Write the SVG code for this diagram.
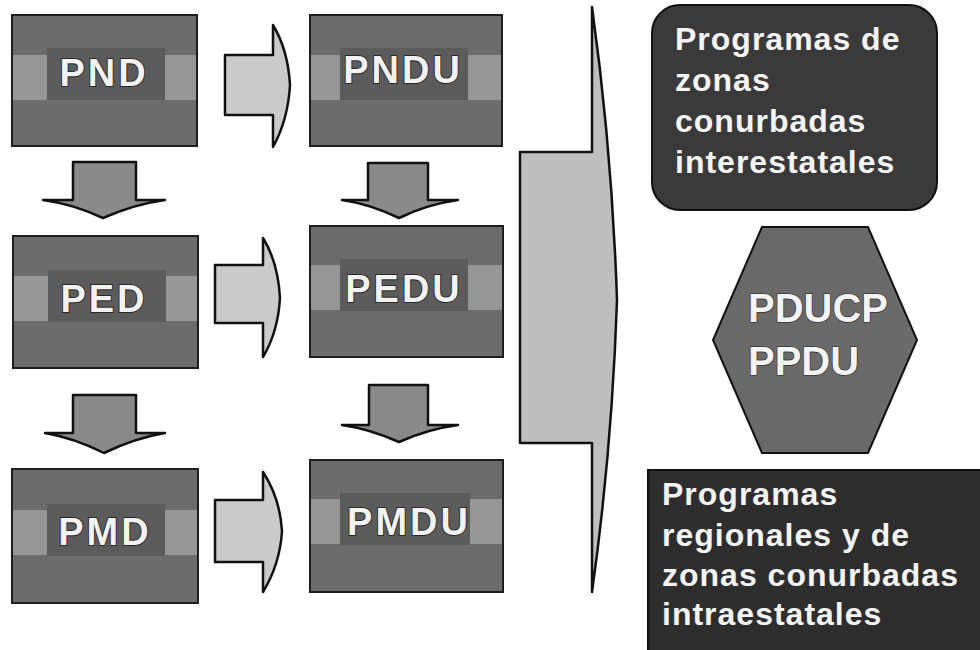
<svg xmlns="http://www.w3.org/2000/svg" width="980" height="650" viewBox="0 0 980 650">
<defs>
<style>
.box{fill:#6c6c6c;stroke:#1e1e1e;stroke-width:2}
.band{fill:#969696}
.inner{fill:#5c5c5c}
.lbl{font-family:"Liberation Sans",Arial,sans-serif;font-weight:bold;font-size:38px;letter-spacing:3px;fill:#f2f2f2;stroke:#1a1a1a;stroke-width:1.6;paint-order:stroke;text-anchor:middle}
.harrow{fill:#cacaca;stroke:#111;stroke-width:2.5;stroke-linejoin:round}
.varrow{fill:#8a8a8a;stroke:#111;stroke-width:2.5;stroke-linejoin:round}
.big{fill:#bebebe;stroke:#111;stroke-width:2.5;stroke-linejoin:round}
.rt{font-family:"Liberation Sans",Arial,sans-serif;font-weight:bold;font-size:32px;letter-spacing:1px;fill:#f4f4f4}
.hx{font-family:"Liberation Sans",Arial,sans-serif;font-weight:bold;font-size:40px;fill:#f4f4f4;stroke:#222;stroke-width:1.2;paint-order:stroke}
</style>
</defs>
<rect width="980" height="650" fill="#ffffff"/>

<g id="connectors">
  <path class="harrow" d="M225,55 H273 V25 Q288,50 290,85 Q288,120 273,147 V115 H225 Z"/>
  <path class="harrow" d="M215,265 H263 V238 Q278,262 280,298 Q278,332 263,357 V323 H215 Z"/>
  <path class="harrow" d="M215,500 H263 V472 Q280,498 282,531 Q280,564 263,592 V562 H215 Z"/>
  <path class="varrow" d="M73,162 H136 V200 H165 Q135,204 103,218 Q73,204 43,200 H73 Z"/>
  <path class="varrow" d="M73,395 H136 V433 H165 Q135,438 104,453 Q74,438 45,433 H73 Z"/>
  <path class="varrow" d="M368,163 H428 V200 H458 Q428,204 399,218 Q370,204 342,200 H368 Z"/>
  <path class="varrow" d="M369,385 H428 V425 H458 Q428,429 399,442 Q370,429 342,425 H369 Z"/>
  <path class="big" d="M520,152 H592 V7 Q612,150 617,300 Q612,450 592,592 V443 H520 Z"/>
</g>

<g id="PND">
  <rect class="box" x="12" y="15" width="185" height="131"/>
  <rect class="band" x="13" y="55" width="183" height="45"/>
  <rect class="inner" x="47" y="48" width="118" height="52"/>
  <text class="lbl" x="104" y="86">PND</text>
</g>
<g id="PED">
  <rect class="box" x="13" y="236" width="185" height="132"/>
  <rect class="band" x="14" y="276" width="183" height="45"/>
  <rect class="inner" x="48" y="270" width="118" height="52"/>
  <text class="lbl" x="104" y="312">PED</text>
</g>
<g id="PMD">
  <rect class="box" x="12" y="469" width="186" height="134"/>
  <rect class="band" x="13" y="510" width="184" height="45"/>
  <rect class="inner" x="47" y="504" width="118" height="52"/>
  <text class="lbl" x="105" y="545">PMD</text>
</g>
<g id="PNDU">
  <rect class="box" x="310" y="15" width="192" height="131"/>
  <rect class="band" x="311" y="55" width="190" height="45"/>
  <rect class="inner" x="340" y="48" width="128" height="52"/>
  <text class="lbl" x="403" y="83">PNDU</text>
</g>
<g id="PEDU">
  <rect class="box" x="310" y="226" width="193" height="131"/>
  <rect class="band" x="311" y="265" width="191" height="45"/>
  <rect class="inner" x="340" y="259" width="128" height="52"/>
  <text class="lbl" x="404" y="302">PEDU</text>
</g>
<g id="PMDU">
  <rect class="box" x="310" y="460" width="193" height="132"/>
  <rect class="band" x="311" y="499" width="191" height="45"/>
  <rect class="inner" x="340" y="493" width="130" height="52"/>
  <text class="lbl" x="409" y="535">PMDU</text>
</g>

<g id="interestatales">
  <rect x="652" y="5" width="285" height="205" rx="28" ry="28" fill="#3a3a3a" stroke="#111" stroke-width="2"/>
  <text class="rt" x="675" y="50">Programas de</text>
  <text class="rt" x="675" y="91">zonas</text>
  <text class="rt" x="675" y="132">conurbadas</text>
  <text class="rt" x="675" y="173">interestatales</text>
</g>
<g id="PDUCP">
  <polygon points="762,227 868,227 917,340 868,453 762,453 713,340" fill="#6a6a6a" stroke="#111" stroke-width="2"/>
  <text class="hx" x="748" y="322">PDUCP</text>
  <text class="hx" x="748" y="375">PPDU</text>
</g>
<g id="intraestatales">
  <rect x="648" y="470" width="340" height="190" fill="#2e2e2e" stroke="#111" stroke-width="2"/>
  <text class="rt" x="662" y="505">Programas</text>
  <text class="rt" x="662" y="546">regionales y de</text>
  <text class="rt" x="662" y="586">zonas conurbadas</text>
  <text class="rt" x="662" y="625">intraestatales</text>
</g>
</svg>
